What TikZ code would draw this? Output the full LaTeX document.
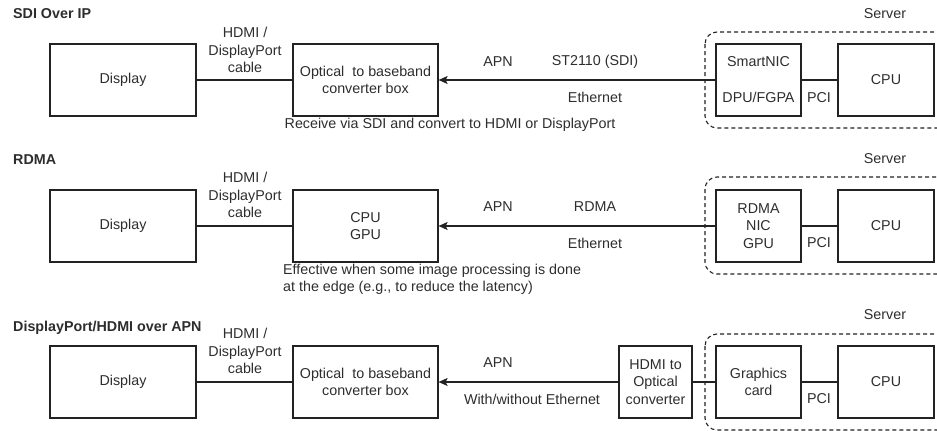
\documentclass[tikz,border=0pt]{standalone}
\usepackage{fontspec}
\setmainfont{Liberation Sans}
\usetikzlibrary{arrows.meta}
\definecolor{ink}{RGB}{34,34,34}
\definecolor{txt}{RGB}{45,45,45}
\tikzset{
  box/.style={draw=ink, line width=1.2pt, minimum height=72pt, inner sep=0pt, align=center, text=txt, font=\fontsize{14.3}{17.2}\selectfont},
  lbl/.style={inner sep=0pt, align=center, text=txt, font=\fontsize{14.3}{17.2}\selectfont},
  ttl/.style={inner sep=0pt, anchor=west, text=txt, font=\fontsize{14.3}{17.2}\selectfont\bfseries},
  wire/.style={draw=ink, line width=1.2pt},
  arr/.style={wire, -{Stealth[length=9pt,width=8pt,inset=2pt]}},
  srv/.style={draw=ink, line width=1.1pt, dash pattern=on 4pt off 3pt, rounded corners=12pt}
}
\begin{document}
\begin{tikzpicture}[x=1pt,y=-1pt]
\useasboundingbox (0,0) rectangle (937,431);
% ---------- Row 1 ----------
\node[ttl] (t1) at (13,14) {SDI Over IP};
\node[lbl] (s1) at (885,14) {Server};
\draw[srv] (705,32) rectangle (965,128);
\node[box, minimum width=146pt] (d1) at (123,80) {Display};
\node[box, minimum width=145pt] (c1) at (365.5,80) {Optical\ \ to baseband\\converter box};
\node[box, minimum width=85pt] (n1) at (758.5,80) {};
\node[lbl] (n1a) at (758.5,62) {SmartNIC};
\node[lbl] (n1b) at (758.5,97) {DPU/FGPA};
\node[box, minimum width=96pt] (p1) at (886,80) {CPU};
\draw[wire] (d1) -- (c1);
\draw[arr] (n1) -- (c1);
\draw[wire] (n1) -- (p1);
\node[lbl] (h1) at (245,50) {HDMI /\\DisplayPort\\cable};
\node[lbl] (a1) at (498,62) {APN};
\node[lbl] (st1) at (595,62) {ST2110 (SDI)};
\node[lbl] (e1) at (595,97) {Ethernet};
\node[lbl] (pc1) at (819,98) {PCI};
\node[lbl] (r1) at (450,125) {Receive via SDI and convert to HDMI or DisplayPort};
% ---------- Row 2 ----------
\node[ttl] (t2) at (13,160) {RDMA};
\node[lbl] (s2) at (885,159) {Server};
\draw[srv] (705,177) rectangle (965,274);
\node[box, minimum width=146pt] (d2) at (123,226) {Display};
\node[box, minimum width=145pt] (c2) at (365.5,226) {CPU\\GPU};
\node[box, minimum width=85pt] (n2) at (758.5,226) {RDMA\\NIC\\GPU};
\node[box, minimum width=96pt] (p2) at (886,226) {CPU};
\draw[wire] (d2) -- (c2);
\draw[arr] (n2) -- (c2);
\draw[wire] (n2) -- (p2);
\node[lbl] (h2) at (245,195) {HDMI /\\DisplayPort\\cable};
\node[lbl] (a2) at (498,207) {APN};
\node[lbl] (rd2) at (595,207) {RDMA};
\node[lbl] (e2) at (595,243) {Ethernet};
\node[lbl] (pc2) at (819,243) {PCI};
\node[lbl, align=left, anchor=west] (r2) at (283,279) {Effective when some image processing is done\\at the edge (e.g., to reduce the latency)};
% ---------- Row 3 ----------
\node[ttl] (t3) at (13,328) {DisplayPort/HDMI over APN};
\node[lbl] (s3) at (885,315) {Server};
\draw[srv] (705,334) rectangle (965,430);
\node[box, minimum width=146pt] (d3) at (123,382) {Display};
\node[box, minimum width=145pt] (c3) at (365.5,382) {Optical\ \ to baseband\\converter box};
\node[box, minimum width=73pt] (o3) at (655.5,382) {HDMI to\\Optical\\converter};
\node[box, minimum width=85pt] (g3) at (758.5,382) {Graphics\\card};
\node[box, minimum width=96pt] (p3) at (886,382) {CPU};
\draw[wire] (d3) -- (c3);
\draw[arr] (o3) -- (c3);
\draw[wire] (o3) -- (g3);
\draw[wire] (g3) -- (p3);
\node[lbl] (h3) at (245,351) {HDMI /\\DisplayPort\\cable};
\node[lbl] (a3) at (498,363) {APN};
\node[lbl] (e3) at (532,399) {With/without Ethernet};
\node[lbl] (pc3) at (819,399) {PCI};
\end{tikzpicture}
\end{document}
